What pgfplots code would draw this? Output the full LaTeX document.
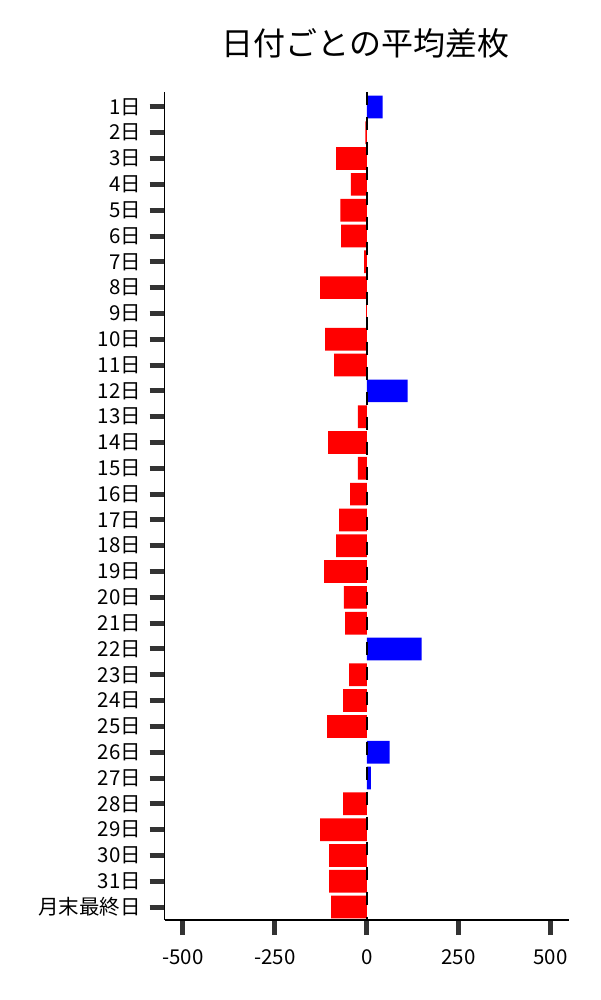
\documentclass[border=0pt]{standalone}
\usepackage{fontspec}
\setmainfont{Noto Sans CJK JP}
\usepackage{pgfplots}
\pgfplotsset{compat=1.18}
\definecolor{tickgray}{HTML}{333333}
\begin{document}
\begin{tikzpicture}[x=1pt,y=1pt]
\useasboundingbox (0,0) rectangle (600,1000);
\node[anchor=center] at (365.5,957) {\fontsize{32}{36}\selectfont 日付ごとの平均差枚};
\begin{axis}[
  at={(164.5pt,80pt)}, anchor=south west,
  scale only axis, width=404.5pt, height=828pt,
  xmin=-550, xmax=550, ymin=-0.5, ymax=31.58,
  axis x line*=bottom, axis y line*=left,
  axis line style={black, line width=1.2pt},
  xtick={-500,-250,0,250,500},
  xticklabels={-500,-250,0,250,500},
  ytick={0,...,31},
  yticklabels={月末最終日,31日,30日,29日,28日,27日,26日,25日,24日,23日,22日,21日,20日,19日,18日,17日,16日,15日,14日,13日,12日,11日,10日,9日,8日,7日,6日,5日,4日,3日,2日,1日},
  tick align=outside,
  major tick length=15pt,
  tick style={color=tickgray, line width=5pt},
  ticklabel style={font=\fontsize{20.5}{22}\selectfont},
  xticklabel style={yshift=-11pt},
  yticklabel style={xshift=-5pt},
  clip=false,
]
\addplot[xbar, bar width=0.88, bar shift=0pt, fill=red, draw=none] coordinates {
(-4,30) (-83,29) (-43,28) (-72,27) (-70,26) (-7,25) (-127,24) (-2,23) (-113,22) (-89,21)
(-24,19) (-105,18) (-24,17) (-45,16) (-75,15) (-83,14) (-116,13) (-62,12) (-59,11)
(-48,9) (-64,8) (-108,7) (-64,4) (-127,3) (-102,2) (-102,1) (-97,0)
};
\addplot[xbar, bar width=0.88, bar shift=0pt, fill=blue, draw=none] coordinates {
(43,31) (111,20) (149,10) (62,6) (11,5)
};
\draw[black, line width=2pt, dash pattern=on 13pt off 12pt] (axis cs:0,31.58) -- (axis cs:0,-0.5);
\end{axis}
\end{tikzpicture}
\end{document}
